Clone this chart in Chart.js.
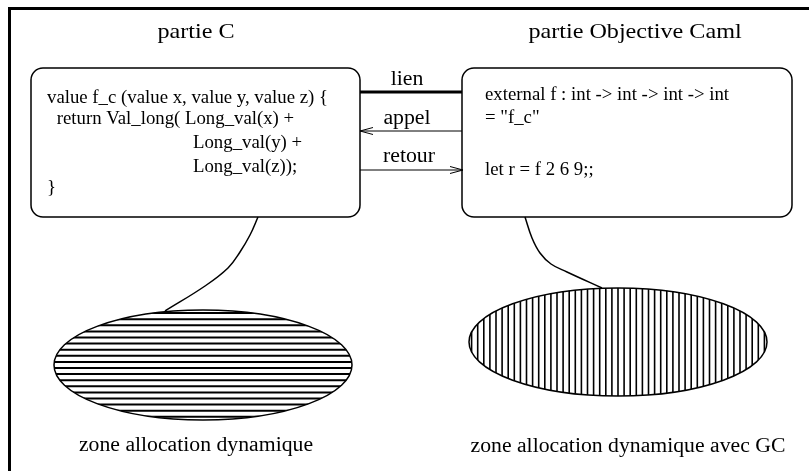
<!DOCTYPE html>
<html>
<head>
<meta charset="utf-8">
<script src="https://cdn.jsdelivr.net/npm/chart.js@4.4.1/dist/chart.umd.min.js"></script>
<style>
  body { margin: 0; background: #fff; }
  #wrap { width: 809px; height: 471px; position: relative; }
</style>
</head>
<body>
<div id="wrap"><canvas id="diagram"></canvas></div>
<script>
// titles above each box
const titles = ["partie C", "partie Objective Caml"];
const titleX = [196, 635];
const titleY = [38, 38];

// code in the C box
const codeC = [
  "value f_c (value x, value y, value z) {",
  " return Val_long( Long_val(x) +",
  "Long_val(y) +",
  "Long_val(z));",
  "}"
];
const codeCX = [47, 52, 193, 193, 47];
const codeCY = [103, 124, 148, 172, 193];

// code in the OCaml box
const codeML = ["external f : int -> int -> int -> int", "= \"f_c\"", "let r = f 2 6 9;;"];
const codeMLX = [485, 485, 485];
const codeMLY = [100, 123, 175];

// labels on the links between the boxes
const linkLabels = ["lien", "appel", "retour"];
const linkLabelX = [407, 407, 409];
const linkLabelY = [85, 124, 162];

// labels under the heaps
const zoneLabels = ["zone allocation dynamique", "zone allocation dynamique avec GC"];
const zoneLabelX = [196, 628];
const zoneLabelY = [451, 452];

// rounded boxes
const boxX = [31, 462];
const boxY = [68, 68];
const boxW = [329, 330];
const boxH = [149, 149];

// heaps (ellipses)
const heapX = [203, 618];
const heapY = [365, 342];
const heapRx = [149, 149];
const heapRy = [55, 54];
const heapHatch = ["horizontal", "vertical"];

// lines
const framePts = [{x: 9.5, y: 471}, {x: 9.5, y: 8.5}, {x: 809, y: 8.5}];
const lienPts = [{x: 360, y: 92}, {x: 462, y: 92}];
const appelPts = [{x: 360, y: 131}, {x: 462, y: 131}];
const appelHead = [{x: 373, y: 127.5}, {x: 360, y: 131}, {x: 373, y: 134.5}];
const retourPts = [{x: 360, y: 170}, {x: 463, y: 170}];
const retourHead = [{x: 450, y: 166.5}, {x: 463, y: 170}, {x: 450, y: 173.5}];
const leftCurve = [{x: 258, y: 217}, {x: 250, y: 235}, {x: 240, y: 252}, {x: 228, y: 268}, {x: 205, y: 286}, {x: 165, y: 311}];
const rightCurve = [{x: 525, y: 217}, {x: 532, y: 238}, {x: 540, y: 253}, {x: 551, y: 264}, {x: 567, y: 272}, {x: 602, y: 288}];

const SERIF = "'Liberation Serif', 'DejaVu Serif', serif";

function lineSet(pts, width, tension) {
  return {
    data: pts,
    showLine: true,
    borderColor: '#000',
    borderWidth: width,
    pointRadius: 0,
    tension: tension || 0,
    clip: false
  };
}

function drawText(ctx, txt, px, py, size, stretch, align) {
  ctx.save();
  ctx.font = size + "px " + SERIF;
  ctx.fillStyle = '#000';
  ctx.textBaseline = 'alphabetic';
  let w = ctx.measureText(txt).width * stretch;
  let x0 = px;
  if (align === 'center') x0 = px - w / 2;
  ctx.translate(x0, py);
  ctx.scale(stretch, 1);
  ctx.fillText(txt, 0, 0);
  ctx.restore();
}

const diagramPlugin = {
  id: 'diagram',
  beforeDatasetsDraw(chart) {
    const ctx = chart.ctx;
    const xs = chart.scales.x, ys = chart.scales.y;

    // rounded boxes
    ctx.save();
    ctx.strokeStyle = '#000';
    ctx.lineWidth = 1.5;
    for (let i = 0; i < boxX.length; i++) {
      const l = xs.getPixelForValue(boxX[i]);
      const r = xs.getPixelForValue(boxX[i] + boxW[i]);
      const t = ys.getPixelForValue(boxY[i]);
      const b = ys.getPixelForValue(boxY[i] + boxH[i]);
      ctx.beginPath();
      ctx.roundRect(l, t, r - l, b - t, 12);
      ctx.stroke();
    }
    ctx.restore();

    // heaps with hatching
    for (let i = 0; i < heapX.length; i++) {
      const cx = xs.getPixelForValue(heapX[i]);
      const cy = ys.getPixelForValue(heapY[i]);
      const rx = Math.abs(xs.getPixelForValue(heapX[i] + heapRx[i]) - cx);
      const ry = Math.abs(ys.getPixelForValue(heapY[i] + heapRy[i]) - cy);
      ctx.save();
      ctx.beginPath();
      ctx.ellipse(cx, cy, rx, ry, 0, 0, Math.PI * 2);
      ctx.clip();
      ctx.strokeStyle = '#000';
      ctx.beginPath();
      const step = 6.1;
      if (heapHatch[i] === 'horizontal') {
        ctx.lineWidth = 2;
        for (let k = -Math.floor(ry / step); k <= Math.floor(ry / step); k++) {
          const y = cy + k * step + 3;
          ctx.moveTo(cx - rx, y);
          ctx.lineTo(cx + rx, y);
        }
      } else {
        ctx.lineWidth = 1.6;
        for (let k = -Math.floor(rx / step); k <= Math.floor(rx / step); k++) {
          const x = cx + k * step;
          ctx.moveTo(x, cy - ry);
          ctx.lineTo(x, cy + ry);
        }
      }
      ctx.stroke();
      ctx.restore();
      ctx.save();
      ctx.strokeStyle = '#000';
      ctx.lineWidth = 1.5;
      ctx.beginPath();
      ctx.ellipse(cx, cy, rx, ry, 0, 0, Math.PI * 2);
      ctx.stroke();
      ctx.restore();
    }
  },
  afterDatasetsDraw(chart) {
    const ctx = chart.ctx;
    const xs = chart.scales.x, ys = chart.scales.y;
    const X = v => xs.getPixelForValue(v);
    const Y = v => ys.getPixelForValue(v);

    titles.forEach((t, i) => drawText(ctx, t, X(titleX[i]), Y(titleY[i]), 21, 1.15, 'center'));
    codeC.forEach((t, i) => drawText(ctx, t, X(codeCX[i]), Y(codeCY[i]), 18.8, 1, 'left'));
    codeML.forEach((t, i) => drawText(ctx, t, X(codeMLX[i]), Y(codeMLY[i]), 18.8, 1, 'left'));
    linkLabels.forEach((t, i) => drawText(ctx, t, X(linkLabelX[i]), Y(linkLabelY[i]), 20, 1.09, 'center'));
    zoneLabels.forEach((t, i) => drawText(ctx, t, X(zoneLabelX[i]), Y(zoneLabelY[i]), 20.5, 1.06, 'center'));
  }
};

new Chart(document.getElementById('diagram'), {
  type: 'scatter',
  data: {
    datasets: [
      lineSet(framePts, 3),
      lineSet(lienPts, 3),
      lineSet(appelPts, 1),
      lineSet(appelHead, 1),
      lineSet(retourPts, 1),
      lineSet(retourHead, 1),
      lineSet(leftCurve, 1.5, 0.4),
      lineSet(rightCurve, 1.5, 0.4)
    ]
  },
  options: {
    responsive: true,
    maintainAspectRatio: false,
    devicePixelRatio: 1,
    animation: false,
    layout: { padding: 0 },
    scales: {
      x: { type: 'linear', min: 0, max: 809, display: false },
      y: { type: 'linear', min: 0, max: 471, reverse: true, display: false }
    },
    plugins: {
      legend: { display: false },
      tooltip: { enabled: false }
    }
  },
  plugins: [diagramPlugin]
});
</script>
</body>
</html>
